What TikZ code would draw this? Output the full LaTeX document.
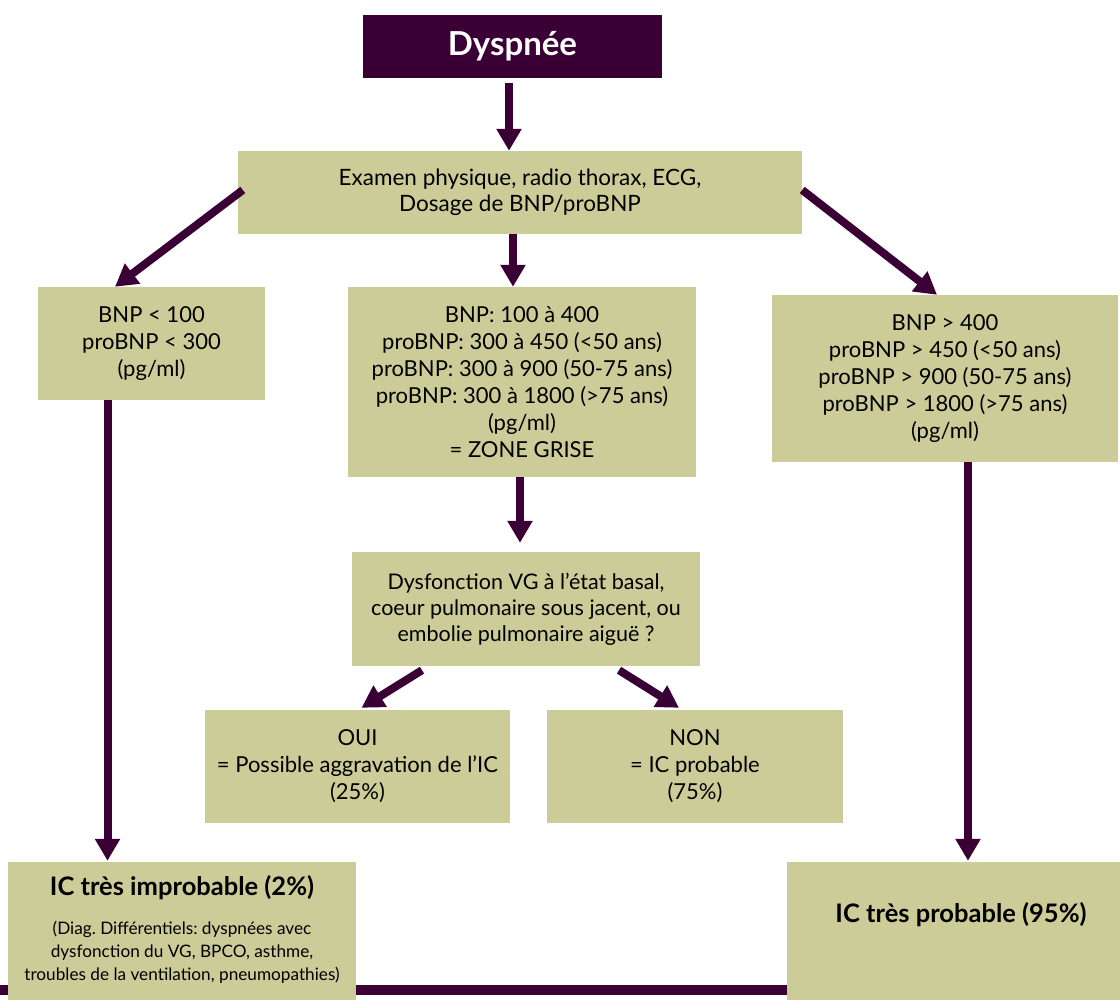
\documentclass[tikz,border=0pt]{standalone}
\usepackage{fontspec}
\setmainfont{Lato}
\usetikzlibrary{arrows.meta,calc}
\definecolor{plum}{HTML}{3A0035}
\definecolor{sage}{HTML}{CCCC99}
\frenchspacing
\begin{document}
\begin{tikzpicture}[x=1pt,y=-1pt,
  box/.style={fill=sage, inner sep=0pt, align=center, text=black,
    font=\fontsize{22}{26}\selectfont},
  arr/.style={draw=plum, line width=8pt, -{Triangle[width=24pt,length=22pt]}},
  plain/.style={inner sep=0pt, align=center, text=black}]
\useasboundingbox (0,0) rectangle (1120,1000);
% bottom bar
\coordinate (bl) at (0,990);
\coordinate (br) at (1120,990);
\draw[plum, line width=10pt] (bl) -- (br);
% nodes
\node[fill=plum, inner sep=0pt, minimum width=299pt, minimum height=63pt,
  text=white, font=\fontsize{33}{36}\selectfont\bfseries] (dys) at (512.5,46.5) {Dyspnée};
\node[box, minimum width=564pt, minimum height=83pt, font=\fontsize{22.5}{25.5}\selectfont] (exam) at (520,192.5)
  {Examen physique, radio thorax, ECG,\\Dosage de BNP/proBNP};
\node[box, minimum width=227pt, minimum height=113pt, font=\fontsize{22}{27}\selectfont] (low) at (151.5,343.5)
  {BNP < 100\\proBNP < 300\\(pg/ml)};
\node[box, minimum width=348pt, minimum height=190pt, font=\fontsize{22}{27}\selectfont] (mid) at (522,382)
  {BNP: 100 à 400\\proBNP: 300 à 450 (<50 ans)\\proBNP: 300 à 900 (50-75 ans)\\proBNP: 300 à 1800 (>75 ans)\\(pg/ml)\\= ZONE GRISE};
\node[box, minimum width=346pt, minimum height=167pt, font=\fontsize{22}{27}\selectfont] (high) at (945,378.5)
  {BNP > 400\\proBNP > 450 (<50 ans)\\proBNP > 900 (50-75 ans)\\proBNP > 1800 (>75 ans)\\(pg/ml)};
\node[box, minimum width=348pt, minimum height=114pt, font=\fontsize{21.5}{26}\selectfont] (dysf) at (526,609)
  {Dysfonction VG à l’état basal,\\coeur pulmonaire sous jacent, ou\\embolie pulmonaire aiguë ?};
\node[box, minimum width=305pt, minimum height=113pt, font=\fontsize{22}{27}\selectfont] (oui) at (357.5,766.5)
  {OUI\\= Possible aggravation de l’IC\\(25\%)};
\node[box, minimum width=296pt, minimum height=113pt, font=\fontsize{22}{27}\selectfont] (non) at (695,766.5)
  {NON\\= IC probable\\(75\%)};
\node[box, minimum width=348pt, minimum height=150pt] (impr) at (182,937) {};
\node[plain, font=\fontsize{25.5}{28}\selectfont\bfseries] (imprt) at (182,888) {IC très improbable (2\%)};
\node[plain, font=\fontsize{17.2}{23}\selectfont] (imprd) at (182,952)
  {(Diag. Différentiels: dyspnées avec\\dysfonction du VG, BPCO, asthme,\\troubles de la ventilation, pneumopathies)};
\node[box, minimum width=333pt, minimum height=150pt] (prob) at (953.5,937) {};
\node[plain, font=\fontsize{25.5}{28}\selectfont\bfseries] (probt) at (961,915) {IC très probable (95\%)};
% arrows
\coordinate (a1) at ([xshift=-3.5pt]dys.south);
\draw[arr, shorten <=5pt] (a1) -- (a1 |- exam.north);
\coordinate (a2) at ([xshift=-7pt]exam.south);
\draw[arr] (a2) -- (a2 |- mid.north);
\coordinate (a3) at ([xshift=5pt,yshift=2.5pt]exam.west);
\coordinate (a3e) at ([xshift=-36.5pt]low.north);
\draw[arr] (a3) -- (a3e);
\coordinate (a4) at ([yshift=2.5pt]exam.east);
\coordinate (a4e) at ([xshift=-8pt]high.north);
\draw[arr] (a4) -- (a4e);
\coordinate (a5) at ([xshift=-2pt]mid.south);
\draw[arr, shorten >=9pt] (a5) -- (a5 |- dysf.north);
\coordinate (a6) at ([xshift=-44pt]low.south);
\draw[arr, shorten >=1pt] (a6) -- (a6 |- impr.north);
\coordinate (a7) at ([xshift=23pt]high.south);
\draw[arr, shorten >=1pt] (a7) -- (a7 |- prob.north);
\coordinate (a8) at ([xshift=-104pt,yshift=-4pt]dysf.south);
\coordinate (a8e) at ([xshift=4pt,yshift=2pt]oui.north);
\draw[arr] (a8) -- (a8e);
\coordinate (a9) at ([xshift=93pt,yshift=-4pt]dysf.south);
\coordinate (a9e) at ([xshift=-16pt,yshift=2pt]non.north);
\draw[arr] (a9) -- (a9e);
\end{tikzpicture}
\end{document}
